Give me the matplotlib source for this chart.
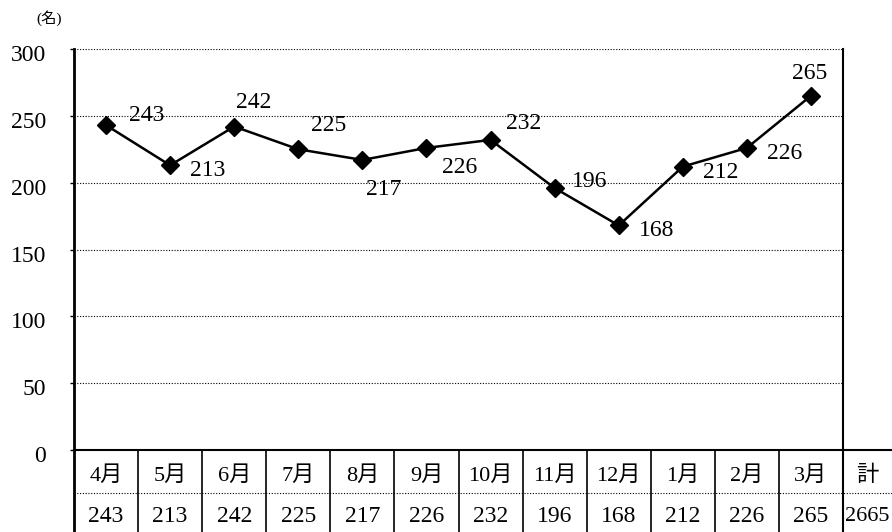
import matplotlib
matplotlib.use("Agg")
import matplotlib.pyplot as plt
import matplotlib.transforms as mtransforms
from matplotlib.lines import Line2D

plt.rcParams['font.family'] = ['Liberation Serif', 'Noto Sans CJK JP']

months = ['4月', '5月', '6月', '7月', '8月', '9月', '10月', '11月', '12月', '1月', '2月', '3月']
values = [243, 213, 242, 225, 217, 226, 232, 196, 168, 212, 226, 265]
total_label = '計'
total_value = 2665
unit_label = '(名)'
yticks = [0, 50, 100, 150, 200, 250, 300]

# label offsets in points (dx, dy)
label_offsets = [(29, 7), (27, -4), (14, 17), (22, 17), (15, -21), (24, -14),
                 (24, 12), (25, 5), (27, -4), (27, -4), (27, -4), (-1, 16)]

W, H = 892, 532
fig = plt.figure(figsize=(W / 100, H / 100), dpi=100)

x0, x1 = 74, 843
ytop, ybot = 49, 450
ax = fig.add_axes([x0 / W, 1 - ybot / H, (x1 - x0) / W, (ybot - ytop) / H])
xs = list(range(len(months)))
ax.set_xlim(-0.5, len(months) - 0.5)
ax.set_ylim(0, 300)

for t in yticks[1:]:
    ax.axhline(t, color='black', lw=0.8, ls=(0, (1, 1.5)), zorder=1)

ax.plot(xs, values, color='black', lw=1.8, marker='D', markersize=9.5, zorder=3)
for x, v, (dx, dy) in zip(xs, values, label_offsets):
    ax.annotate(str(v), (x, v), xytext=(dx, dy), textcoords='offset points',
                ha='center', va='center', fontsize=17)

ax.set_yticks(yticks)
ax.set_yticklabels([str(t) for t in yticks], fontsize=17)
ax.tick_params(axis='y', length=3, width=1, pad=17)
shift = mtransforms.ScaledTranslation(0, -4 / 100, fig.dpi_scale_trans)
for lab in ax.get_yticklabels():
    lab.set_transform(lab.get_transform() + shift)
ax.set_xticks([])
for s in ['top', 'bottom']:
    ax.spines[s].set_visible(False)
ax.spines['left'].set_linewidth(2)
ax.spines['right'].set_linewidth(1.5)
fig.text(49 / W, 1 - 18 / H, unit_label, ha='center', va='center', fontsize=11)

# table below
col_w = (x1 - x0) / len(months)
ncols = len(months) + 1
tax = fig.add_axes([x0 / W, 0, (W - x0) / W, (H - ybot) / H])
xmax = -0.5 + (W - x0) / col_w
tax.set_xlim(-0.5, xmax)
tax.set_ylim(-2.0, 0)
tax.axis('off')
tax.add_line(Line2D([-0.5, xmax], [0, 0], color='black', lw=1.5, clip_on=False))
tax.add_line(Line2D([-0.5, xmax], [-1.05, -1.05], color='black', lw=0.8, ls=(0, (1, 1.5))))
for i in range(ncols):
    lw = 2 if i == 0 else (1.5 if i == len(months) else 1.2)
    tax.add_line(Line2D([i - 0.5, i - 0.5], [0, -2.2], color='black', lw=lw, clip_on=False))
heads = months + [total_label]
vals = [str(v) for v in values] + [str(total_value)]
for i, (h, v) in enumerate(zip(heads, vals)):
    cx = i if i < len(months) else (len(months) - 0.5 + xmax) / 2
    tax.text(cx, -0.63, h, ha='center', va='center', fontsize=16)
    tax.text(cx, -1.63, v, ha='center', va='center', fontsize=17 if i < len(months) else 16)

fig.savefig('out.png', dpi=100)
